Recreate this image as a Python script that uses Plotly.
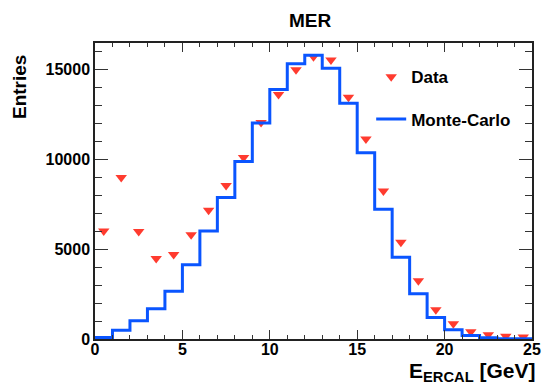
import numpy as np
import plotly.graph_objects as go

# ---- data ----
bin_centers = [0.5, 1.5, 2.5, 3.5, 4.5, 5.5, 6.5, 7.5, 8.5, 9.5, 10.5, 11.5, 12.5,
               13.5, 14.5, 15.5, 16.5, 17.5, 18.5, 19.5, 20.5, 21.5, 22.5, 23.5, 24.5]
data_entries = [6000, 8970, 5970, 4480, 4690, 5800, 7160, 8530, 10080, 12030, 13590,
                14960, 15690, 15500, 13430, 11110, 8230, 5380, 3240, 1630, 850, 400,
                240, 150, 110]
bin_edges = [0, 1, 2, 3, 4, 5, 6, 7, 8, 9, 10, 11, 12, 13, 14, 15, 16, 17, 18, 19,
             20, 21, 22, 23, 24, 25]
mc_entries = [80, 480, 1010, 1680, 2660, 4130, 6000, 7860, 9870, 12010, 13870,
              15290, 15770, 15040, 13100, 10350, 7210, 4540, 2510, 1200, 520, 200,
              75, 20, 10]
x_ticks = [0, 5, 10, 15, 20, 25]
x_ticktext = ["0", "5", "10", "15", "20", "25"]
y_ticks = [0, 5000, 10000, 15000]
y_ticktext = ["0", "5000", "10000", "15000"]
x_minor = [1, 2, 3, 4, 6, 7, 8, 9, 11, 12, 13, 14, 16, 17, 18, 19, 21, 22, 23, 24]
y_minor = [1000, 2000, 3000, 4000, 6000, 7000, 8000, 9000, 11000, 12000, 13000,
           14000, 16000]

FONT = "Liberation Sans"
RED = "#ff3b2f"
BLUE = "#0a55ff"

fig = go.Figure()

fig.add_trace(go.Scatter(
    x=bin_centers, y=data_entries, mode="markers", name="Data",
    legendgroup="a",
    marker=dict(symbol="triangle-down", size=10, color=RED, line=dict(width=0)),
))

fig.add_trace(go.Scatter(
    x=bin_edges, y=mc_entries + [mc_entries[-1]], mode="lines", name="Monte-Carlo",
    legendgroup="b",
    line=dict(shape="hv", color=BLUE, width=3),
))

axis_common = dict(
    showgrid=False, zeroline=False, showline=True, linecolor="#222", linewidth=1.5,
    mirror="allticks", ticks="inside", tickcolor="#333", tickwidth=1.2,
    tickfont=dict(family=FONT, size=16, color="black", weight="bold"),
    automargin=False,
)

fig.update_xaxes(range=[0, 25], tickmode="array", tickvals=x_ticks, ticktext=x_ticktext,
                 ticklen=9, ticklabelstandoff=-5,
                 minor=dict(tickmode="array", tickvals=x_minor, ticks="inside", ticklen=4,
                            tickcolor="#333", tickwidth=1.2),
                 **axis_common)
fig.update_yaxes(range=[0, 16450], tickmode="array", tickvals=y_ticks, ticktext=y_ticktext,
                 ticklen=13,
                 minor=dict(tickmode="array", tickvals=y_minor, ticks="inside", ticklen=7,
                            tickcolor="#333", tickwidth=1.2),
                 **axis_common)

fig.update_layout(
    width=542, height=385,
    margin=dict(l=95, r=10, t=43, b=46, autoexpand=False),
    plot_bgcolor="white", paper_bgcolor="white",
    title=dict(text="MER", x=0.492, xref="paper", xanchor="center",
               y=1 - 20 / 385, yref="container", yanchor="middle",
               font=dict(family=FONT, size=19, color="black", weight="bold")),
    legend=dict(x=0.632, y=0.945, xanchor="left", yanchor="top",
                bgcolor="rgba(0,0,0,0)", borderwidth=0, tracegroupgap=17,
                font=dict(family=FONT, size=17, color="black", weight="bold")),
    showlegend=True,
    annotations=[
        dict(text="Entries", textangle=-90, xref="paper", yref="paper",
             x=-0.174, y=0.966, xanchor="center", yanchor="top", showarrow=False,
             font=dict(family=FONT, size=19, color="black", weight="bold")),
        dict(text="E<sub>ERCAL</sub> [GeV]", xref="paper", yref="paper",
             x=1.012, y=-0.112, xanchor="right", yanchor="middle", showarrow=False,
             font=dict(family=FONT, size=21, color="black", weight="bold")),
    ],
)

fig.write_html("out.html")
